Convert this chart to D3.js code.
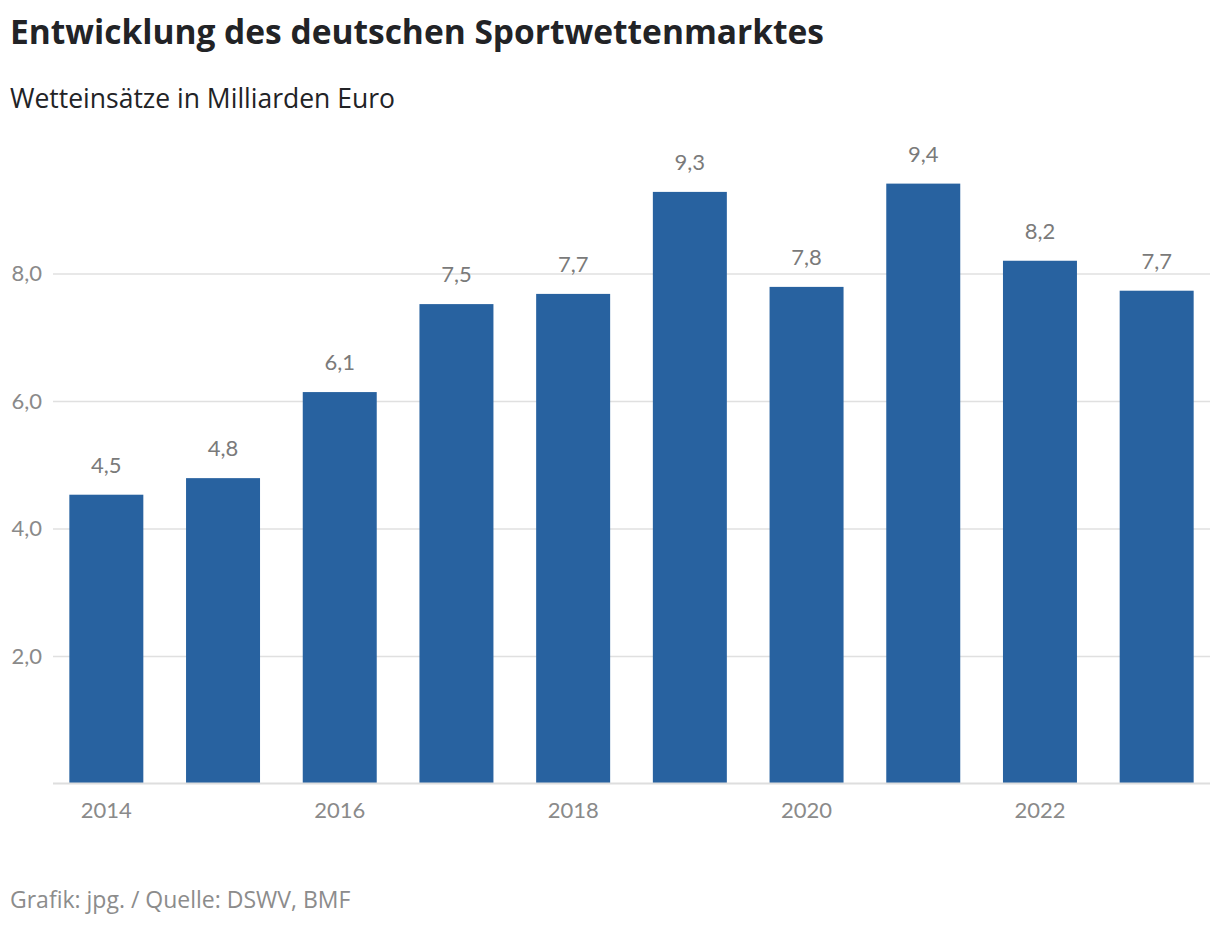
<!DOCTYPE html>
<html>
<head>
<meta charset="utf-8">
<script src="https://cdn.jsdelivr.net/npm/d3@7"></script>
<style>
  html, body { margin: 0; padding: 0; background: #fff; }
  svg { display: block; }
</style>
</head>
<body>
<svg id="chart" width="1220" height="930"></svg>
<script>
const years = [2014, 2015, 2016, 2017, 2018, 2019, 2020, 2021, 2022, 2023];
const stakes = [4.53, 4.79, 6.14, 7.52, 7.68, 9.28, 7.79, 9.41, 8.20, 7.73];
const yTicks = [2, 4, 6, 8];
const xTickYears = [2014, 2016, 2018, 2020, 2022];
const title = "Entwicklung des deutschen Sportwettenmarktes";
const subtitle = "Wetteinsätze in Milliarden Euro";
const footer = "Grafik: jpg. / Quelle: DSWV, BMF";

(function () {
const svg = d3.select("#chart");
const mLeft = 53, mRight = 1210, mBottom = 783.5;
const headFont = "'Open Sans', 'Noto Sans', sans-serif";
const bodyFont = "Lato, 'Noto Sans', sans-serif";

const fmt = v => d3.format(".1f")(v).replace(".", ",");

const x = d3.scaleBand().domain(years).range([mLeft, mRight]).paddingInner(0.366).paddingOuter(0.14);
const y = d3.scaleLinear().domain([0, 10]).range([mBottom, mBottom - 637.5]);

svg.append("text").attr("x", 10).attr("y", 44).text(title)
  .style("font-family", headFont)
  .style("font-size", "33.5px").style("font-weight", 700).attr("fill", "#222326");
svg.append("text").attr("x", 10).attr("y", 108).text(subtitle)
  .style("font-family", headFont)
  .style("font-size", "26.5px").attr("fill", "#222326");
svg.append("text").attr("x", 10).attr("y", 908).text(footer)
  .style("font-family", headFont)
  .style("font-size", "23px").attr("fill", "#8c8c8c");

const yAxis = d3.axisLeft(y).tickValues(yTicks).tickSize(-(mRight - mLeft)).tickFormat(fmt).tickPadding(11);
const gy = svg.append("g").attr("transform", `translate(${mLeft},0)`).call(yAxis);
gy.select(".domain").remove();
gy.selectAll(".tick line").attr("stroke", "#e0e0e0").attr("stroke-width", 1.5);
gy.selectAll(".tick text").style("font-size", "22px").attr("fill", "#8a8a8a")
  .style("font-family", bodyFont);

svg.append("g").selectAll("rect").data(years).join("rect")
  .attr("x", d => x(d))
  .attr("width", x.bandwidth())
  .attr("y", (d, i) => y(stakes[i]))
  .attr("height", (d, i) => y(0) - y(stakes[i]))
  .attr("fill", "#2862a0");

svg.append("line").attr("x1", mLeft).attr("x2", mRight).attr("y1", y(0)).attr("y2", y(0))
  .attr("stroke", "#dedede").attr("stroke-width", 2);

svg.append("g").selectAll("text").data(years).join("text")
  .attr("x", d => x(d) + x.bandwidth() / 2)
  .attr("y", (d, i) => y(stakes[i]) - 22)
  .attr("text-anchor", "middle")
  .style("font-family", bodyFont)
  .style("font-size", "22px").attr("fill", "#7a7a7a")
  .text((d, i) => fmt(stakes[i]));

const xAxis = d3.axisBottom(x).tickValues(xTickYears).tickSize(0).tickPadding(19);
const gx = svg.append("g").attr("transform", `translate(0,${mBottom})`).call(xAxis);
gx.select(".domain").remove();
gx.selectAll(".tick text").style("font-size", "22px").attr("fill", "#8a8a8a")
  .style("font-family", bodyFont);
})();
</script>
</body>
</html>
